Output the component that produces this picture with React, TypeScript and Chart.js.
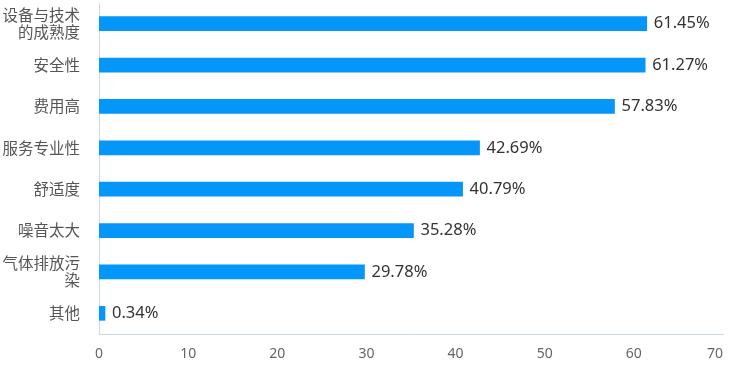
import React, { useEffect, useRef } from "react";
import { Chart, registerables } from "chart.js";

Chart.register(...registerables);

const categories: (string | string[])[] = [
  ["设备与技术", "的成熟度"],
  "安全性",
  "费用高",
  "服务专业性",
  "舒适度",
  "噪音太大",
  ["气体排放污", "染"],
  "其他",
];
const values = [61.45, 61.27, 57.83, 42.69, 40.79, 35.28, 29.78, 0.34];
const xTicks = [0, 10, 20, 30, 40, 50, 60, 70];

const BAR_COLOR = "#0596FA";
const AXIS_COLOR = "#C9D8F0";

const labelPlugin = {
  id: "customLabels",
  afterDraw(chart: any) {
    const ctx = chart.ctx;
    const xs = chart.scales.x;
    const area = chart.chartArea;
    ctx.save();
    // x tick labels
    ctx.font = "14px 'Noto Sans', sans-serif";
    ctx.fillStyle = "#666666";
    ctx.textBaseline = "middle";
    ctx.textAlign = "center";
    xTicks.forEach((t) => {
      const s = String(t);
      const w = ctx.measureText(s).width;
      let px = xs.getPixelForValue(t);
      const maxX = chart.width - 6 - w / 2;
      if (px > maxX) px = maxX;
      ctx.fillText(s, px, area.bottom + 20);
    });
    // value labels
    ctx.font = "16.5px 'Noto Sans', sans-serif";
    ctx.fillStyle = "#333333";
    ctx.textAlign = "left";
    const meta = chart.getDatasetMeta(0);
    meta.data.forEach((bar: any, i: number) => {
      ctx.fillText(values[i].toFixed(2) + "%", bar.x + 7, bar.y);
    });
    ctx.restore();
  },
};

export default function App() {
  const ref = useRef<HTMLCanvasElement | null>(null);
  useEffect(() => {
    document.body.style.margin = "0";
    if (!ref.current) return;
    const chart = new Chart(ref.current, {
      type: "bar",
      data: {
        labels: categories as any,
        datasets: [
          {
            data: values,
            backgroundColor: BAR_COLOR,
            barThickness: 14,
            minBarLength: 6,
          },
        ],
      },
      plugins: [labelPlugin],
      options: {
        indexAxis: "y",
        animation: false,
        responsive: false,
        layout: { padding: { top: 3, right: 6, left: 0, bottom: 0 } },
        plugins: {
          legend: { display: false },
          tooltip: { enabled: false },
        },
        scales: {
          x: {
            min: 0,
            max: 70,
            ticks: { display: false, stepSize: 10 },
            grid: { display: false, drawTicks: false },
            border: { display: true, color: AXIS_COLOR, width: 1 },
            afterFit: (s: any) => {
              s.height = 36;
              s.paddingLeft = 0;
              s.paddingRight = 0;
            },
          },
          y: {
            ticks: {
              padding: 19,
              color: "#555555",
              font: { family: "'Noto Sans CJK SC', sans-serif", size: 15.5, lineHeight: 1.1 },
            },
            grid: { display: false, drawTicks: false },
            border: { display: true, color: AXIS_COLOR, width: 1 },
            afterFit: (s: any) => {
              s.width = 99;
              s.paddingTop = 0;
              s.paddingBottom = 0;
            },
          },
        },
      } as any,
    });
    return () => chart.destroy();
  }, []);
  return (
    <div style={{ width: 729, height: 370 }}>
      <canvas ref={ref} width={729} height={370} />
    </div>
  );
}
